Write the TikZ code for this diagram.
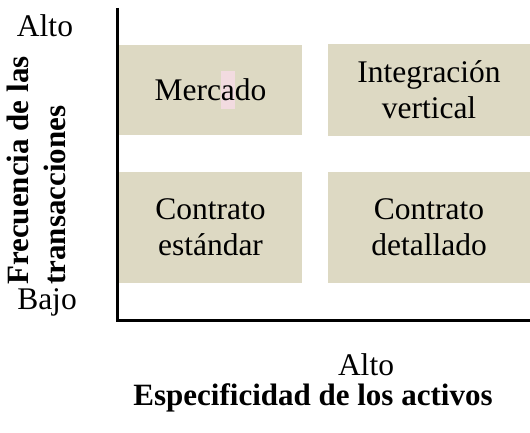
\documentclass[tikz,border=0pt]{standalone}
\usepackage{fontspec}
\setmainfont{Liberation Serif}
\definecolor{fondo}{RGB}{221,217,195}
\definecolor{marca}{RGB}{242,219,224}

\begin{document}
\begin{tikzpicture}[x=1pt, y=1pt, draw=black,
  celda/.style={fill=fondo, inner sep=0pt, align=center, font=\fontsize{31.5}{36}\selectfont},
  rotulo/.style={inner sep=0pt, font=\fontsize{31.5}{36}\selectfont},
  titulo/.style={inner sep=0pt, font=\fontsize{31}{37}\selectfont\bfseries}]

\useasboundingbox (0,0) rectangle (530,432);

\node[celda, minimum width=183, minimum height=90] (mercado) at (210.5,342) {Merc\rlap{\textcolor{marca}{\rule[-8pt]{14pt}{38pt}}}ado};

\node[celda, minimum width=202, minimum height=92] (integracion) at (429,342) {Integración\\vertical};

\node[celda, minimum width=183, minimum height=111] (estandar) at (210.5,204.5) {Contrato\\estándar};

\node[celda, minimum width=202, minimum height=111] (detallado) at (429,204.5) {Contrato\\detallado};

\coordinate (arriba) at (117.5,424);
\coordinate (derecha) at (530,111.5);
\draw[line width=3] (arriba) |- (derecha);

\node[rotulo, anchor=base] (altoy) at (45,395) {Alto};
\node[rotulo, anchor=base] (bajo) at (47,123) {Bajo};
\node[titulo, rotate=90, anchor=west, align=left] (frecuencia) at (36,147) {Frecuencia de las\\transacciones};

\node[rotulo, anchor=base] (altox) at (366,57) {Alto};
\node[titulo, anchor=base] (especificidad) at (313,27) {Especificidad de los activos};
\end{tikzpicture}
\end{document}
